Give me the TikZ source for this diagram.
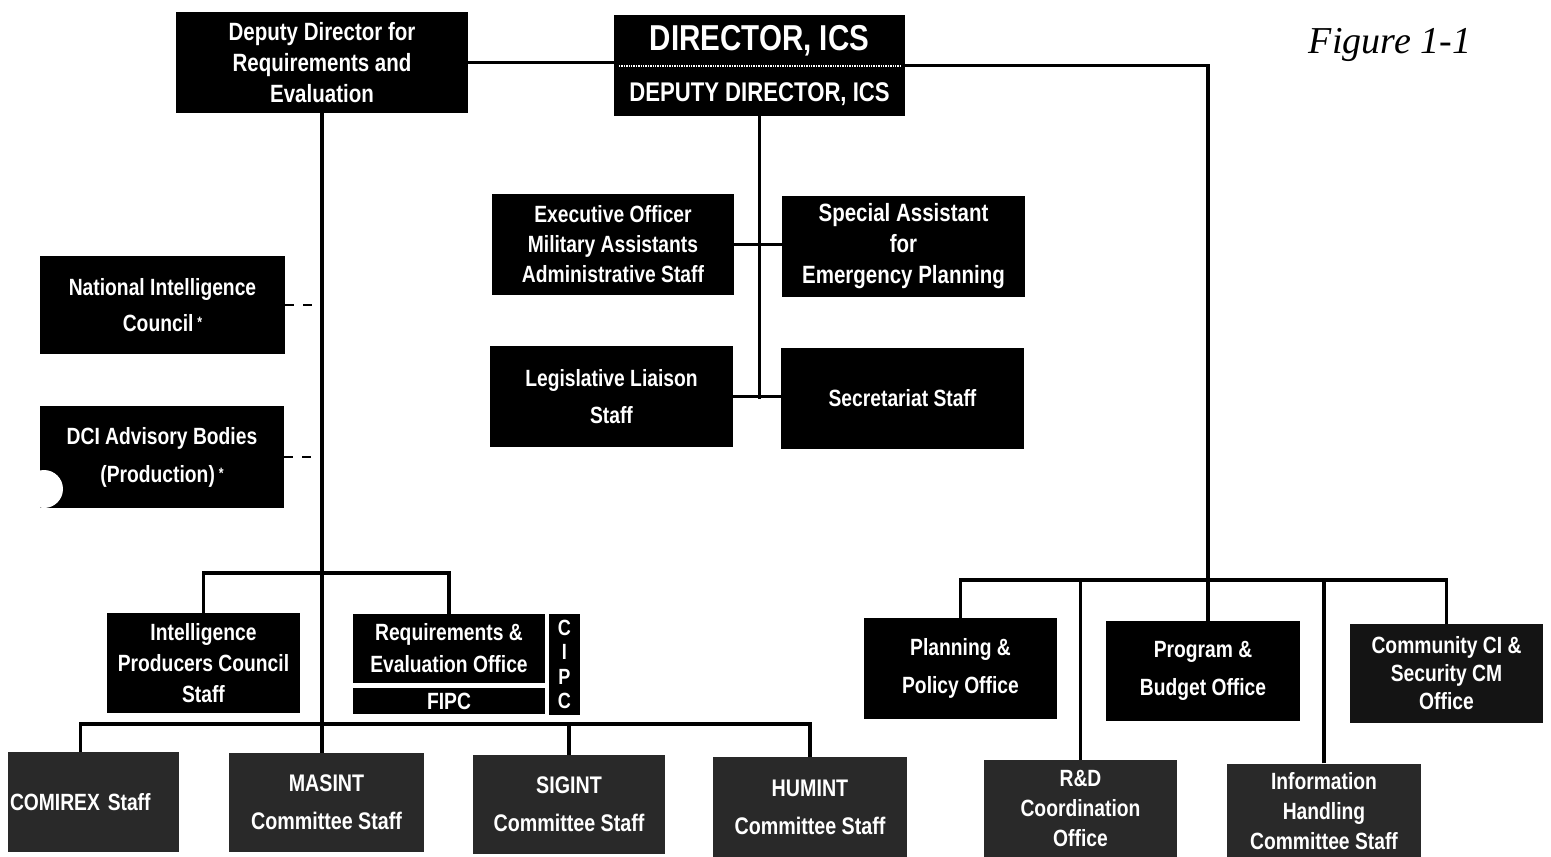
\documentclass[tikz,border=0pt]{standalone}
\usepackage{fontspec}
\setmainfont{Liberation Sans}[FakeStretch=0.82]
\newfontfamily\handfont{Liberation Serif}
\begin{document}
\begin{tikzpicture}[x=1pt,y=-1pt,
  box/.style={fill=black, text=white, inner sep=0pt, align=center,
    font=\bfseries\fontsize{23.5}{30}\selectfont},
  grainbox/.style={box, fill=black!84},
  conn/.style={line width=3.5pt, draw=black},
  dashline/.style={line width=2.2pt, draw=black, dash pattern=on 9pt off 9pt}
]
\useasboundingbox[fill=white] (0,0) rectangle (1551,857);

% top row
\node[box, minimum width=292, minimum height=101, font=\bfseries\fontsize{25}{31}\selectfont] (ddre) at (322,62.5)
  {Deputy Director for\\Requirements and\\Evaluation};
\node[box, minimum width=291, minimum height=101] (dir) at (759.5,65.5) {};
\node[text=white, inner sep=0pt, font=\bfseries\fontsize{36}{36}\selectfont] (dirt) at (759.5,41) {DIRECTOR, ICS};
\node[text=white, inner sep=0pt, font=\bfseries\fontsize{27}{27}\selectfont] (dirb) at (759.5,94) {DEPUTY DIRECTOR, ICS};
\draw[white, line width=1.4pt, densely dotted] (619,66) -- (900,66);

% staff boxes
\node[box, minimum width=242, minimum height=101] (exec) at (613,244.5)
  {Executive Officer\\Military Assistants\\Administrative Staff};
\node[box, minimum width=243, minimum height=101, font=\bfseries\fontsize{25}{31}\selectfont] (spec) at (903.5,246.5)
  {Special Assistant\\for\\Emergency Planning};
\node[box, minimum width=243, minimum height=101, font=\bfseries\fontsize{23.5}{37}\selectfont] (leg) at (611.5,396.5)
  {Legislative Liaison\\Staff};
\node[box, minimum width=243, minimum height=101] (sec) at (902.5,398.5) {Secretariat Staff};

% left side bodies
\node[box, minimum width=245, minimum height=98, font=\bfseries\fontsize{23.5}{36}\selectfont] (nic) at (162.5,305)
  {National Intelligence\\Council\,\raisebox{4pt}{\fontsize{15}{15}\selectfont *}};
\node[box, minimum width=244, minimum height=102, font=\bfseries\fontsize{23.5}{38}\selectfont] (dci) at (162,457)
  {DCI Advisory Bodies\\(Production)\,\raisebox{4pt}{\fontsize{15}{15}\selectfont *}};
\fill[white] (44,489) circle (19);

% requirements branch
\node[box, minimum width=193, minimum height=100, font=\bfseries\fontsize{23.5}{31}\selectfont] (ipcs) at (203.5,663)
  {Intelligence\\Producers Council\\Staff};
\node[box, minimum width=192, minimum height=69, font=\bfseries\fontsize{23.5}{32}\selectfont] (reo) at (449,648.5)
  {Requirements \&\\Evaluation Office};
\node[box, minimum width=192, minimum height=26] (fipc) at (449,701) {FIPC};
\node[box, minimum width=31, minimum height=101, font=\bfseries\fontsize{22}{24.5}\selectfont] (cipc) at (564.5,664.5)
  {C\\I\\P\\C};

% bottom left row
\node[grainbox, minimum width=171, minimum height=100, text width=167, align=left] (comirex) at (93.5,802) {COMIREX Staff};
\node[grainbox, minimum width=195, minimum height=99, font=\bfseries\fontsize{24}{38}\selectfont] (masint) at (326.5,802.5)
  {MASINT\\Committee Staff};
\node[grainbox, minimum width=192, minimum height=99, font=\bfseries\fontsize{24}{38}\selectfont] (sigint) at (569,804.5)
  {SIGINT\\Committee Staff};
\node[grainbox, minimum width=194, minimum height=100, font=\bfseries\fontsize{24}{38}\selectfont] (humint) at (810,807)
  {HUMINT\\Committee Staff};

% right branch
\node[box, minimum width=193, minimum height=101, font=\bfseries\fontsize{23.5}{38}\selectfont] (plan) at (960.5,668.5)
  {Planning \&\\Policy Office};
\node[box, minimum width=194, minimum height=100, font=\bfseries\fontsize{23.5}{38}\selectfont] (prog) at (1203,671)
  {Program \&\\Budget Office};
\node[box, fill=black!92, minimum width=193, minimum height=99, font=\bfseries\fontsize{23.5}{28}\selectfont] (comm) at (1446.5,673.5)
  {Community CI \&\\Security CM\\Office};
\node[grainbox, minimum width=193, minimum height=97] (rd) at (1080.5,808.5)
  {R\&D\\Coordination\\Office};
\node[grainbox, minimum width=194, minimum height=95] (info) at (1324,811)
  {Information\\Handling\\Committee Staff};

% handwritten label
\node[inner sep=0pt, font=\handfont\itshape\fontsize{38}{38}\selectfont] (fig) at (1390,45) {Figure 1-1};

% connectors
\coordinate (b1) at (0,573);
\coordinate (b2) at (0,724);
\coordinate (b3) at (0,580);
\draw[conn] (ddre.east) -- (ddre.east -| dir.west);
\draw[conn] (dir.east) -| ([xshift=5pt]prog.north);
\draw[conn] (plan.north) -- (plan.north |- b3) -| (comm.north);
\draw[conn] (rd.north) -- (rd.north |- b3);
\draw[conn] (info.north) -- (info.north |- b3);
\draw[conn] (dir.south) -- (dir.south |- sec.west);
\draw[conn] (exec.east) -- (exec.east -| spec.west);
\draw[conn] (leg.east) -- (leg.east -| sec.west);
\draw[conn] (ddre.south) -- (ddre.south |- masint.north);
\draw[conn] (ipcs.north) -- (ipcs.north |- b1) -| (reo.north);
\draw[conn] ([xshift=-13pt]comirex.north) -- ([xshift=-13pt]comirex.north |- b2) -| (humint.north);
\draw[conn] (sigint.north) -- (sigint.north |- b2);
\draw[dashline] (nic.east) -- (nic.east -| ddre.south);
\draw[dashline] (dci.east) -- (dci.east -| ddre.south);
\end{tikzpicture}
\end{document}
